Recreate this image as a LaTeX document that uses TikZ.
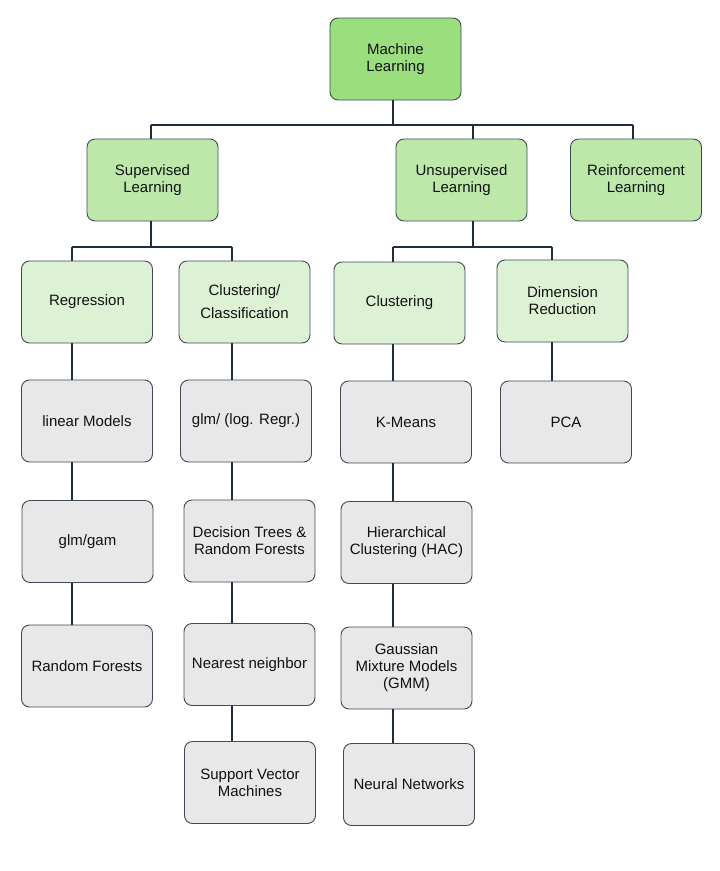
\documentclass[tikz,border=0pt]{standalone}
\usepackage{fontspec}
\setmainfont{Liberation Sans}
\definecolor{bordc}{HTML}{3E4A58}
\definecolor{linec}{HTML}{1F2D3D}
\definecolor{c1}{HTML}{9BDE7E}
\definecolor{c2}{HTML}{BDE8AA}
\definecolor{c3}{HTML}{DDF2D5}
\definecolor{c4}{HTML}{E8E8E8}
\definecolor{txtc}{HTML}{111111}
\begin{document}
\begin{tikzpicture}[x=1pt,y=-1pt,
  box/.style={draw=bordc,line width=0.9pt,rounded corners=8pt,minimum width=131pt,minimum height=82pt,
    align=center,font=\fontsize{15}{17}\selectfont,text=txtc,inner sep=2pt},
  lvl1/.style={box,fill=c1},
  lvl2/.style={box,fill=c2},
  lvl3/.style={box,fill=c3},
  leaf/.style={box,fill=c4},
  conn/.style={draw=linec,line width=1.4pt}]
\useasboundingbox (0,0) rectangle (720,871);
\node[lvl1] (ml) at (395.5,59) {Machine\\Learning};
\node[lvl2] (sup) at (152.5,180) {Supervised\\Learning};
\node[lvl2] (uns) at (461.5,180) {Unsupervised\\Learning};
\node[lvl2] (rei) at (636,180) {Reinforcement\\Learning};
\node[lvl3] (reg) at (87,302) {Regression};
\node[lvl3] (cc) at (244.5,302) {Clustering/\\[6pt]Classification};
\node[lvl3] (clu) at (399.5,303) {Clustering};
\node[lvl3] (dim) at (562.5,301) {Dimension\\Reduction};
\node[leaf] (lm) at (87,421) {linear Models};
\node[leaf] (glr) at (246,421) {glm/ (log. Regr.)};
\node[leaf] (km) at (406,422) {K-Means};
\node[leaf] (pca) at (566,422) {PCA};
\node[leaf] (gg) at (87.5,541.5) {glm/gam};
\node[leaf] (dt) at (249.5,541) {Decision Trees \&\\Random Forests};
\node[leaf] (hac) at (406.5,542.5) {Hierarchical\\Clustering (HAC)};
\node[leaf] (rf) at (87,666) {Random Forests};
\node[leaf] (nn) at (249.5,664.5) {Nearest neighbor};
\node[leaf] (gmm) at (406.5,668) {Gaussian\\Mixture Models\\(GMM)};
\node[leaf] (svm) at (250,782.5) {Support Vector\\Machines};
\node[leaf] (neu) at (409,784.5) {Neural Networks};
% bus coordinates
\coordinate (b0) at (393,125);
\coordinate (k1) at (151,125);
\coordinate (k2) at (473,125);
\coordinate (k3) at (633,125);
\coordinate (s0) at (151,247);
\coordinate (sa) at (72,247);
\coordinate (sb) at (232,247);
\coordinate (u0) at (473,247);
\coordinate (ua) at (393,247);
\coordinate (ub) at (552,247);
\draw[conn] (ml.south -| b0) -- (b0);
\draw[conn] (k1) -- (k3);
\draw[conn] (k1) -- (sup.north -| k1);
\draw[conn] (k2) -- (uns.north -| k2);
\draw[conn] (k3) -- (rei.north -| k3);
\draw[conn] (sup.south -| s0) -- (s0);
\draw[conn] (sa) -- (sb);
\draw[conn] (sa) -- (reg.north -| sa);
\draw[conn] (sb) -- (cc.north -| sb);
\draw[conn] (uns.south -| u0) -- (u0);
\draw[conn] (ua) -- (ub);
\draw[conn] (ua) -- (clu.north -| ua);
\draw[conn] (ub) -- (dim.north -| ub);
% columns
\draw[conn] (reg.south -| sa) -- (lm.north -| sa);
\draw[conn] (lm.south -| sa) -- (gg.north -| sa);
\draw[conn] (gg.south -| sa) -- (rf.north -| sa);
\draw[conn] (cc.south -| sb) -- (glr.north -| sb);
\draw[conn] (glr.south -| sb) -- (dt.north -| sb);
\draw[conn] (dt.south -| sb) -- (nn.north -| sb);
\draw[conn] (nn.south -| sb) -- (svm.north -| sb);
\draw[conn] (clu.south -| ua) -- (km.north -| ua);
\draw[conn] (km.south -| ua) -- (hac.north -| ua);
\draw[conn] (hac.south -| ua) -- (gmm.north -| ua);
\draw[conn] (gmm.south -| ua) -- (neu.north -| ua);
\draw[conn] (dim.south -| ub) -- (pca.north -| ub);
\end{tikzpicture}
\end{document}
